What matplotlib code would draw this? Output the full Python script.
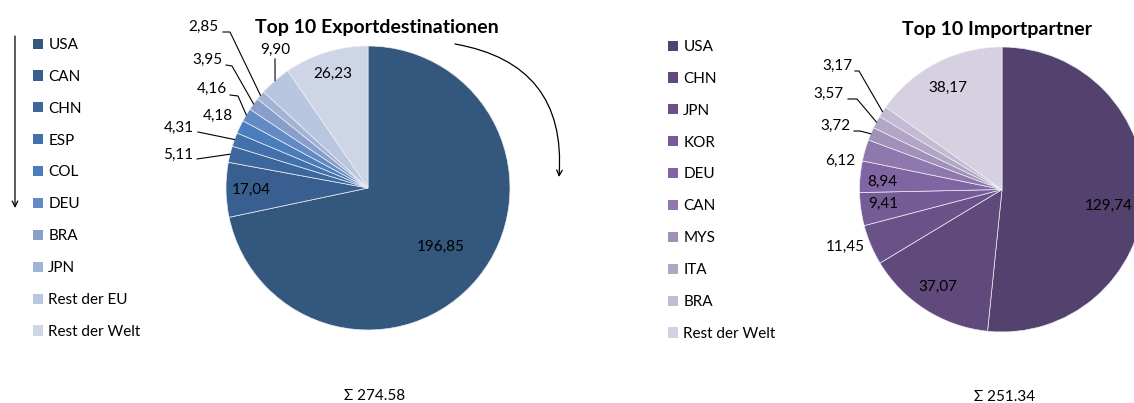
import numpy as np
import matplotlib.pyplot as plt
from matplotlib.patches import Patch

plt.rcParams["font.family"] = ["Lato", "DejaVu Sans"]

W, H = 1134, 403
FS = 11

# Exporte
exp_laender = ["USA", "CAN", "CHN", "ESP", "COL", "DEU", "BRA", "JPN",
               "Rest der EU", "Rest der Welt"]
exp_werte = [196.85, 17.04, 5.11, 4.31, 4.18, 4.16, 3.95, 2.85, 9.90, 26.23]
exp_farben = ["#34577D", "#385F8F", "#3C679C", "#4270AB", "#4A7DBB",
              "#628AC4", "#879FCA", "#A2B4D6", "#B9C6DF", "#CDD5E6"]
exp_titel = "Top 10 Exportdestinationen"
exp_summe = "Σ 274.58"

# Importe
imp_laender = ["USA", "CHN", "JPN", "KOR", "DEU", "CAN", "MYS", "ITA", "BRA",
               "Rest der Welt"]
imp_werte = [129.74, 37.07, 11.45, 9.41, 8.94, 6.12, 3.72, 3.57, 3.17, 38.17]
imp_farben = ["#54426E", "#5F4A7B", "#6A5289", "#755C97", "#7F66A2",
              "#8E78AE", "#A190B8", "#B2A6C6", "#C4BAD4", "#D6D0E0"]
imp_titel = "Top 10 Importpartner"
imp_summe = "Σ 251.34"

# Lage der Beschriftungen: ("in", r, dwinkel) oder ("out", (x, y), Linie)
exp_lage = {0: ("in", 0.66, 0), 1: ("in", 0.82, 0), 9: ("in", 0.84, 0),
            2: ("out", (193, 155), [(197, 159)]),
            3: ("out", (194, 128), [(198, 132)]),
            4: ("out", (233, 116), []),
            5: ("out", (227, 89), [(230, 95), (238, 96)]),
            6: ("out", (222, 60), [(226, 65), (232, 66)]),
            7: ("out", (218, 27), [(223, 32), (230, 32)]),
            8: ("top", (275, 50), [(275, 59)])}
imp_lage = {0: ("in", 0.76, -6), 1: ("in", 0.82, -1), 3: ("in", 0.84, -1),
            4: ("in", 0.84, 1.6), 9: ("in", 0.81, 0.7),
            2: ("out", (865, 247), []),
            5: ("out", (855, 161), []),
            6: ("out", (850, 126), [(854, 131), (860, 131)]),
            7: ("out", (843, 94), [(848, 99), (857, 99)]),
            8: ("out", (852, 66), [(855, 71), (859, 71)])}

fig = plt.figure(figsize=(W / 100, H / 100), dpi=100)


def zeichne_pie(werte, farben, laender, lage, titel, summe, cx, cy, r,
                titel_pos, summe_pos, leg_pos):
    ax = fig.add_axes([0, 0, 1, 1])
    wedges, _ = ax.pie(werte, colors=farben, startangle=90, counterclock=False,
                       radius=1,
                       wedgeprops=dict(edgecolor="#EEEEF4", linewidth=0.5))
    ax.set_aspect("auto")
    ax.set_xlim(-cx / r, (W - cx) / r)
    ax.set_ylim((cy - H) / r, cy / r)
    ax.axis("off")

    def p(x, y):
        return (x - cx) / r, (cy - y) / r

    for i, w in enumerate(wedges):
        mitte = np.deg2rad((w.theta1 + w.theta2) / 2)
        txt = f"{werte[i]:.2f}".replace(".", ",")
        art = lage[i]
        if art[0] == "in":
            a = mitte + np.deg2rad(art[2])
            ax.text(art[1] * np.cos(a), art[1] * np.sin(a), txt,
                    ha="center", va="center", fontsize=FS, color="black")
            continue
        rand = (np.cos(mitte), np.sin(mitte))
        if art[0] == "top":
            ax.text(*p(*art[1]), txt, ha="center", va="center", fontsize=FS)
        else:
            ax.text(*p(*art[1]), txt, ha="right", va="center", fontsize=FS)
        if art[2]:
            pts = [p(*q) for q in art[2]] + [rand]
            ax.plot([q[0] for q in pts], [q[1] for q in pts], color="black",
                    lw=0.8)

    ax.text(*p(*titel_pos), titel, ha="center", va="center", fontsize=14,
            fontweight="bold")
    ax.text(*p(*summe_pos), summe, ha="center", va="center", fontsize=FS)

    handles = [Patch(facecolor=f, edgecolor="none") for f in farben]
    ax.legend(handles, laender, loc="upper left",
              bbox_to_anchor=(leg_pos[0] / W, 1 - leg_pos[1] / H),
              bbox_transform=fig.transFigure, frameon=False, borderpad=0,
              borderaxespad=0, handlelength=0.65, handleheight=0.65,
              handletextpad=0.35, labelspacing=1.17, fontsize=FS)
    return ax


zeichne_pie(exp_werte, exp_farben, exp_laender, exp_lage, exp_titel, exp_summe,
            368, 188, 142, (377, 27), (375, 396), (33, 38))
zeichne_pie(imp_werte, imp_farben, imp_laender, imp_lage, imp_titel, imp_summe,
            1002, 189.5, 142.5, (997, 29), (1005, 397), (668, 40))

# Pfeile
fig.add_artist(plt.Annotation("", xy=(15, H - 208), xytext=(15, H - 36),
                              xycoords="figure pixels",
                              textcoords="figure pixels",
                              arrowprops=dict(arrowstyle="->", lw=0.9,
                                              color="black", shrinkA=0,
                                              shrinkB=0)))
fig.add_artist(plt.Annotation("", xy=(559, H - 177), xytext=(455, H - 44),
                              xycoords="figure pixels",
                              textcoords="figure pixels",
                              arrowprops=dict(arrowstyle="->", lw=0.9,
                                              color="black", shrinkA=0,
                                              shrinkB=0,
                                              connectionstyle="arc3,rad=-0.45")))

plt.savefig("out.png", dpi=100)
